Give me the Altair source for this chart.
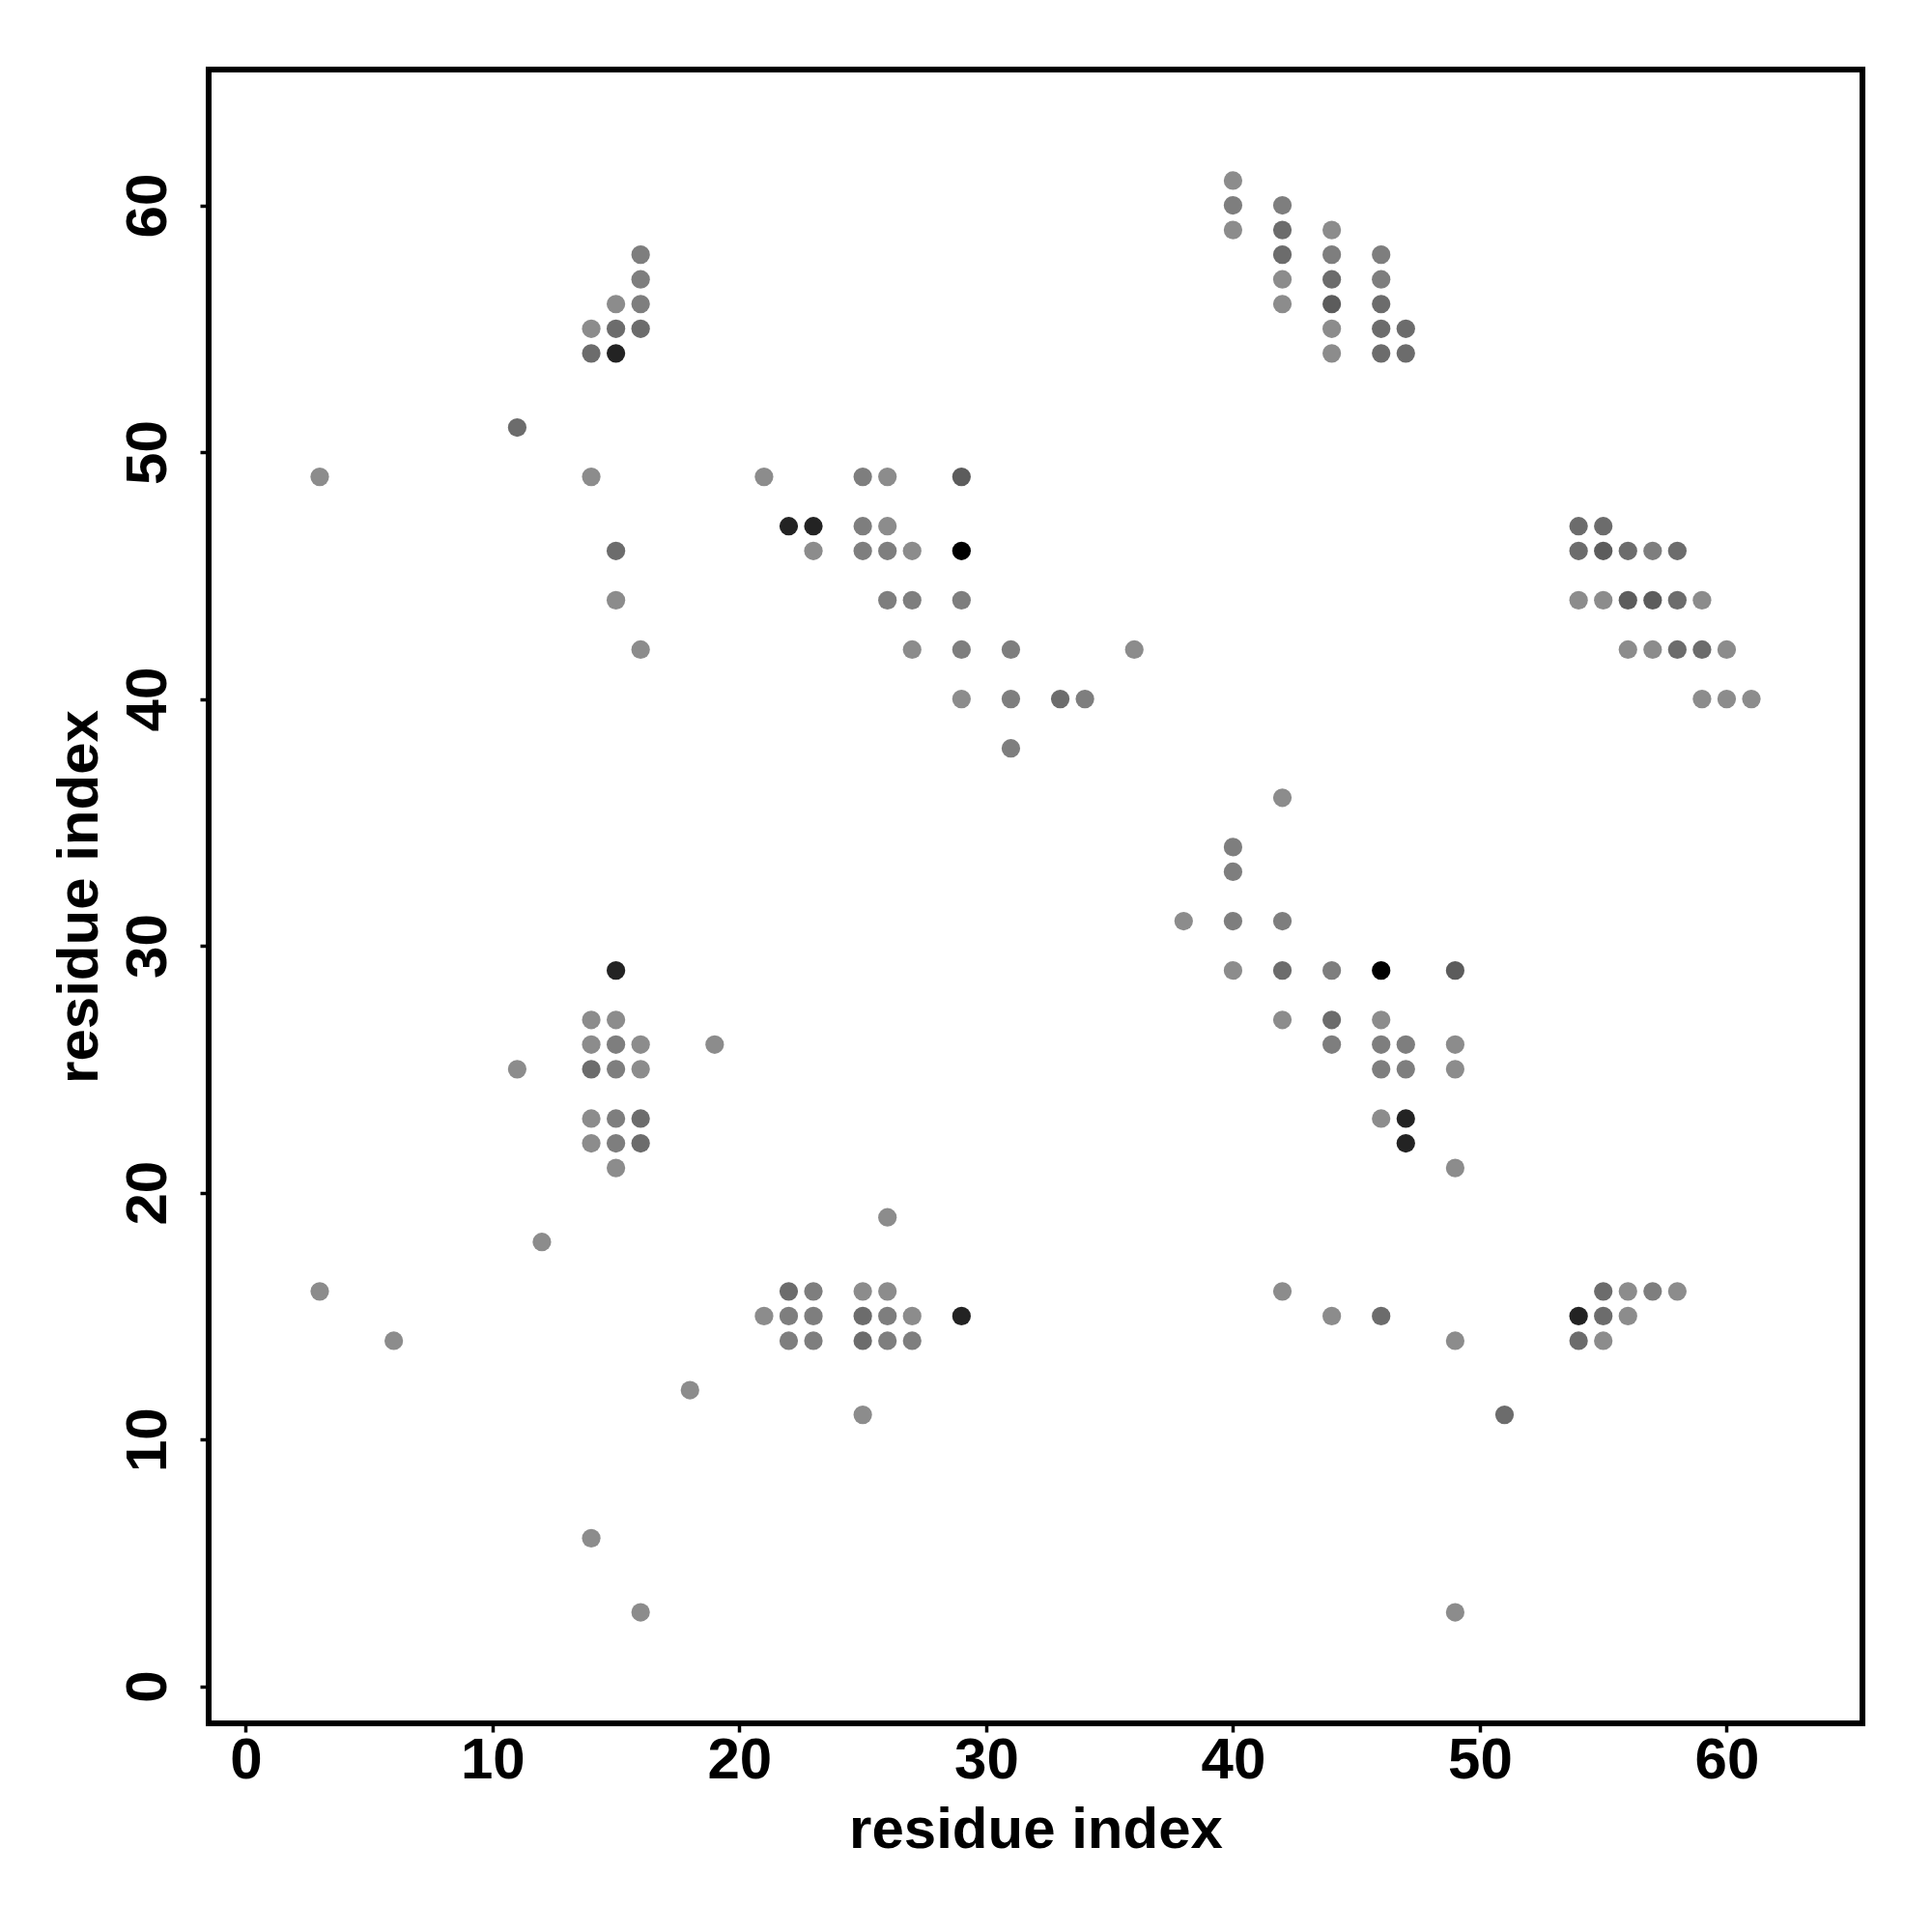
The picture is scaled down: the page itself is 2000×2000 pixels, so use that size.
import altair as alt
import pandas as pd

# Contact map: residue i (x), residue j (y), contact strength level (1 = weak .. 6 = strongest)
# top-left block
tl_x = [16, 16, 15, 16, 14, 15, 16, 14, 15, 11, 3, 14, 21, 25, 26, 29, 22, 23, 25, 26,
        15, 23, 25, 26, 27, 29, 15, 26, 27, 29, 16, 27, 29, 31, 36, 29, 31, 33, 34, 31]
tl_y = [58, 57, 56, 56, 55, 55, 55, 54, 54, 51, 49, 49, 49, 49, 49, 49, 47, 47, 47, 47,
        46, 46, 46, 46, 46, 46, 44, 44, 44, 44, 42, 42, 42, 42, 42, 40, 40, 40, 40, 38]
tl_l = [2, 2, 1, 2, 1, 3, 3, 3, 5, 3, 1, 1, 1, 2, 1, 4, 5, 5, 2, 1,
        3, 1, 2, 2, 1, 6, 1, 2, 2, 2, 1, 1, 2, 2, 1, 1, 2, 3, 2, 2]

# top-right block
tr_x = [40, 40, 40, 42, 42, 42, 42, 42, 44, 44, 44, 44, 44, 44, 46, 46, 46, 46, 46, 47, 47,
        54, 55, 54, 55, 56, 57, 58, 54, 55, 56, 57, 58, 59, 56, 57, 58, 59, 60, 59, 60, 61]
tr_y = [61, 60, 59, 60, 59, 58, 57, 56, 59, 58, 57, 56, 55, 54, 58, 57, 56, 55, 54, 55, 54,
        47, 47, 46, 46, 46, 46, 46, 44, 44, 44, 44, 44, 44, 42, 42, 42, 42, 42, 40, 40, 40]
tr_l = [1, 2, 1, 2, 3, 3, 1, 1, 1, 2, 3, 4, 1, 1, 2, 2, 3, 3, 3, 3, 3,
        3, 3, 3, 4, 3, 2, 3, 1, 1, 4, 4, 3, 1, 1, 1, 3, 3, 1, 1, 1, 1]

# middle-left block
ml_x = [15, 14, 15, 14, 15, 16, 19, 11, 14, 15, 16, 14, 15, 16, 14, 15, 16, 15, 26, 12]
ml_y = [29, 27, 27, 26, 26, 26, 26, 25, 25, 25, 25, 23, 23, 23, 22, 22, 22, 21, 19, 18]
ml_l = [5, 1, 1, 1, 2, 1, 1, 1, 3, 2, 1, 1, 2, 3, 1, 2, 3, 1, 1, 1]

# middle-right block
mr_x = [42, 40, 40, 38, 40, 42, 40, 42, 44, 46, 49, 42, 44, 46, 44, 46, 47, 49, 46, 47, 49, 46, 47, 47, 49]
mr_y = [36, 34, 33, 31, 31, 31, 29, 29, 29, 29, 29, 27, 27, 27, 26, 26, 26, 26, 25, 25, 25, 23, 23, 22, 21]
mr_l = [1, 2, 2, 1, 2, 2, 1, 3, 2, 6, 4, 1, 3, 1, 2, 2, 2, 1, 2, 2, 1, 1, 5, 5, 1]

# bottom-left block
bl_x = [3, 22, 23, 25, 26, 21, 22, 23, 25, 26, 27, 29, 6, 22, 23, 25, 26, 27, 18, 25, 14, 16]
bl_y = [16, 16, 16, 16, 16, 15, 15, 15, 15, 15, 15, 15, 14, 14, 14, 14, 14, 14, 12, 11, 6, 3]
bl_l = [1, 3, 2, 1, 1, 1, 2, 2, 3, 2, 1, 5, 1, 2, 2, 3, 2, 2, 1, 1, 1, 1]

# bottom-right block
br_x = [42, 55, 56, 57, 58, 44, 46, 54, 55, 56, 49, 54, 55, 51, 49]
br_y = [16, 16, 16, 16, 16, 15, 15, 15, 15, 15, 14, 14, 14, 11, 3]
br_l = [1, 3, 1, 2, 1, 1, 3, 5, 3, 1, 1, 3, 1, 3, 1]

x_ticks = [0, 10, 20, 30, 40, 50, 60]
y_ticks = [0, 10, 20, 30, 40, 50, 60]

df = pd.DataFrame({
    "i": tl_x + tr_x + ml_x + mr_x + bl_x + br_x,
    "j": tl_y + tr_y + ml_y + mr_y + bl_y + br_y,
    "level": tl_l + tr_l + ml_l + mr_l + bl_l + br_l,
})

FONT = "Liberation Sans"
PLOT = 1712
DOM = [-1.5, 65.5]

x_axis = alt.Axis(
    values=x_ticks, domain=False, grid=False, ticks=True, tickSize=9, tickWidth=3.5,
    tickColor="black", labelFont=FONT, labelFontSize=60, labelFontWeight="bold",
    labelColor="black", labelBaseline="alphabetic", labelPadding=47, labelAlign="center",
    title="residue index", titleFont=FONT, titleFontSize=60, titleFontWeight="bold",
    titleColor="black", titleBaseline="alphabetic", titleX=PLOT / 2, titleY=128,
    labelFlush=False, labelOverlap=False,
)
y_axis = alt.Axis(
    values=y_ticks, domain=False, grid=False, ticks=True, tickSize=9, tickWidth=3.5,
    tickColor="black", labelFont=FONT, labelFontSize=60, labelFontWeight="bold",
    labelColor="black", labelAngle=270, labelAlign="center", labelBaseline="alphabetic",
    labelPadding=36,
    title="residue index", titleFont=FONT, titleFontSize=60, titleFontWeight="bold",
    titleColor="black", titleAngle=270, titleBaseline="alphabetic", titleAlign="center",
    titleX=-116, titleY=PLOT / 2,
    labelFlush=False, labelOverlap=False,
)

chart = alt.Chart(df).mark_circle(size=370, opacity=1).encode(
    x=alt.X("i:Q", scale=alt.Scale(domain=DOM, nice=False, zero=False), axis=x_axis),
    y=alt.Y("j:Q", scale=alt.Scale(domain=DOM, nice=False, zero=False), axis=y_axis),
    color=alt.Color(
        "level:O",
        scale=alt.Scale(domain=[1, 2, 3, 4, 5, 6],
                        range=["#8c8c8c", "#7e7e7e", "#6c6c6c", "#5c5c5c", "#232323", "#000000"]),
        legend=None,
    ),
).properties(
    width=PLOT, height=PLOT,
    background="white",
    autosize=alt.AutoSizeParams(type="none"),
    padding={"left": 208, "top": 64, "right": 60, "bottom": 200},
).configure_view(
    stroke="black", strokeWidth=6, fill="white"
)

chart.save("out.html", embed_options={"renderer": "svg", "actions": False})
